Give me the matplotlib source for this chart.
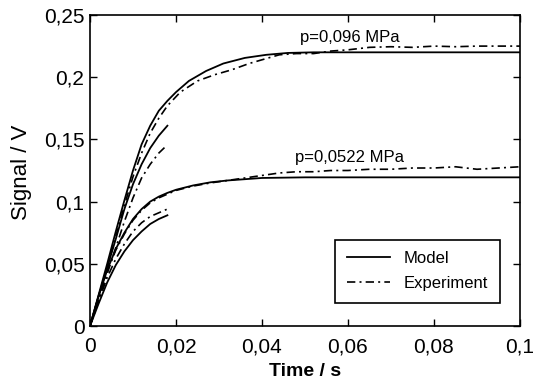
import matplotlib
matplotlib.use("Agg")
import matplotlib.pyplot as plt

plt.rcParams['font.family'] = ['Liberation Sans', 'DejaVu Sans']

# ---- data ----
upper_model_t = [0, 0.002, 0.004, 0.006, 0.008, 0.010, 0.012, 0.014, 0.016, 0.018,
                 0.020, 0.023, 0.027, 0.031, 0.036, 0.041, 0.046, 0.052, 0.100]
upper_model_v = [0, 0.025, 0.050, 0.076, 0.101, 0.125, 0.146, 0.161, 0.173, 0.181,
                 0.188, 0.197, 0.205, 0.211, 0.2155, 0.218, 0.2195, 0.220, 0.220]

upper_exp_t = [0, 0.002, 0.004, 0.006, 0.008, 0.010, 0.012, 0.014, 0.016, 0.018,
               0.021, 0.025, 0.029, 0.033, 0.037, 0.040, 0.044, 0.048, 0.052, 0.056,
               0.060, 0.065, 0.070, 0.075, 0.080, 0.085, 0.090, 0.095, 0.100]
upper_exp_v = [0, 0.023, 0.047, 0.072, 0.097, 0.120, 0.139, 0.155, 0.167, 0.177,
               0.188, 0.197, 0.202, 0.206, 0.211, 0.214, 0.218, 0.219, 0.219, 0.221,
               0.222, 0.224, 0.2245, 0.224, 0.225, 0.2245, 0.225, 0.225, 0.225]

upper_branch_model_t = [0, 0.002, 0.004, 0.006, 0.008, 0.010, 0.012, 0.014, 0.016, 0.018]
upper_branch_model_v = [0, 0.024, 0.047, 0.070, 0.094, 0.114, 0.130, 0.143, 0.153, 0.161]

upper_branch_exp_t = [0, 0.002, 0.004, 0.006, 0.008, 0.010, 0.012, 0.014, 0.016, 0.0178]
upper_branch_exp_v = [0, 0.021, 0.042, 0.063, 0.084, 0.103, 0.119, 0.130, 0.139, 0.145]

lower_model_t = [0, 0.002, 0.004, 0.006, 0.008, 0.010, 0.012, 0.014, 0.016, 0.018,
                 0.020, 0.024, 0.028, 0.032, 0.036, 0.040, 0.050, 0.100]
lower_model_v = [0, 0.024, 0.045, 0.062, 0.075, 0.086, 0.094, 0.100, 0.104, 0.107,
                 0.1095, 0.113, 0.1155, 0.117, 0.118, 0.119, 0.1195, 0.1195]

lower_exp_t = [0, 0.002, 0.004, 0.006, 0.008, 0.010, 0.012, 0.014, 0.016, 0.018,
               0.020, 0.024, 0.028, 0.032, 0.036, 0.040, 0.044, 0.048, 0.052, 0.056,
               0.060, 0.065, 0.070, 0.075, 0.080, 0.085, 0.090, 0.095, 0.100]
lower_exp_v = [0, 0.023, 0.044, 0.061, 0.074, 0.085, 0.093, 0.099, 0.103, 0.106,
               0.109, 0.1125, 0.115, 0.117, 0.119, 0.121, 0.123, 0.124, 0.124, 0.125,
               0.125, 0.126, 0.126, 0.127, 0.127, 0.128, 0.126, 0.127, 0.128]

lower_branch_model_t = [0, 0.002, 0.004, 0.006, 0.008, 0.010, 0.012, 0.014, 0.016, 0.018]
lower_branch_model_v = [0, 0.018, 0.035, 0.049, 0.060, 0.069, 0.076, 0.082, 0.086, 0.089]

lower_branch_exp_t = [0, 0.002, 0.004, 0.006, 0.008, 0.010, 0.012, 0.014, 0.016, 0.018]
lower_branch_exp_v = [0, 0.020, 0.039, 0.054, 0.066, 0.076, 0.083, 0.088, 0.091, 0.094]

x_ticks = [0, 0.02, 0.04, 0.06, 0.08, 0.1]
x_tick_labels = ['0', '0,02', '0,04', '0,06', '0,08', '0,1']
y_ticks = [0, 0.05, 0.1, 0.15, 0.2, 0.25]
y_tick_labels = ['0', '0,05', '0,1', '0,15', '0,2', '0,25']

label_upper = 'p=0,096 MPa'
label_lower = 'p=0,0522 MPa'

# ---- figure ----
fig = plt.figure(figsize=(5.4, 3.86), dpi=100)
ax = fig.add_axes([90/540, (386-326)/386, 430/540, 311/386])

solid = dict(color='black', lw=1.3, ls='-')
dashdot = dict(color='black', lw=1.2, ls=(0, (5, 2.5, 1.2, 2.5)))

ax.plot(upper_model_t, upper_model_v, label='Model', **solid)
ax.plot(upper_exp_t, upper_exp_v, label='Experiment', **dashdot)
ax.plot(upper_branch_model_t, upper_branch_model_v, **solid)
ax.plot(upper_branch_exp_t, upper_branch_exp_v, **dashdot)
ax.plot(lower_model_t, lower_model_v, **solid)
ax.plot(lower_exp_t, lower_exp_v, **dashdot)
ax.plot(lower_branch_model_t, lower_branch_model_v, **solid)
ax.plot(lower_branch_exp_t, lower_branch_exp_v, **dashdot)

ax.text(0.0488, 0.228, label_upper, fontsize=12, ha='left', va='baseline')
ax.text(0.0477, 0.132, label_lower, fontsize=12, ha='left', va='baseline')

ax.set_xlim(0, 0.1)
ax.set_ylim(0, 0.25)
ax.set_xticks(x_ticks)
ax.set_xticklabels(x_tick_labels)
ax.set_yticks(y_ticks)
ax.set_yticklabels(y_tick_labels)
ax.tick_params(direction='in', top=True, right=True, length=5, width=1,
               labelsize=15, colors='black')
ax.tick_params(axis='x', pad=8)
ax.tick_params(axis='y', pad=4)
for s in ax.spines.values():
    s.set_linewidth(1.2)
    s.set_color('black')

ax.set_xlabel('Time / s', fontsize=14, fontweight='bold', labelpad=5)
ax.set_ylabel('Signal / V', fontsize=16)
ax.yaxis.set_label_coords(-0.135, 0.495)

leg = ax.legend(loc='lower right', bbox_to_anchor=(0.953, 0.074), borderaxespad=0,
                fontsize=12, frameon=True, fancybox=False, handlelength=2.6,
                edgecolor='black', borderpad=0.7, labelspacing=0.6)
leg.get_frame().set_linewidth(1.2)
leg.get_frame().set_alpha(1)

fig.savefig('out.png', dpi=100)
